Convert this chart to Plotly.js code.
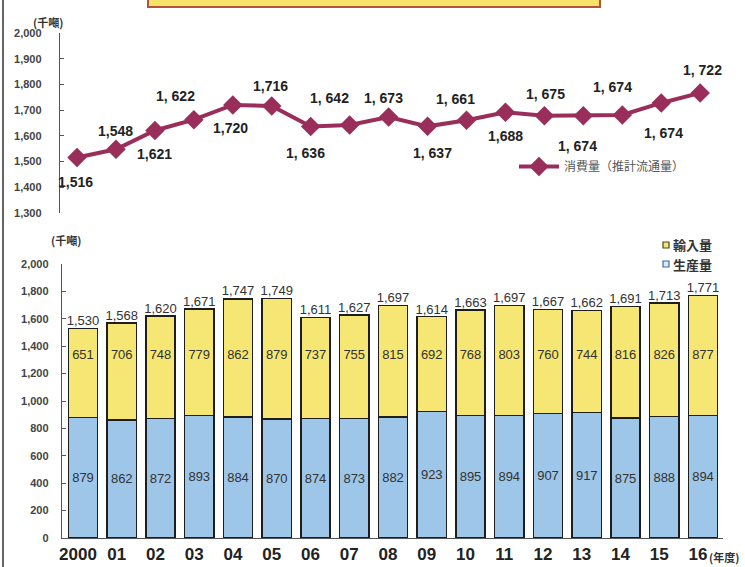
<!DOCTYPE html>
<html>
<head>
<meta charset="utf-8">
<script src="https://cdn.plot.ly/plotly-3.0.1.min.js"></script>
<style>
html,body{margin:0;padding:0;background:#fff;}
#chart{width:745px;height:567px;}
</style>
</head>
<body>
<div id="chart"></div>
<script>
// ---- data ----
const years = ['2000','01','02','03','04','05','06','07','08','09','10','11','12','13','14','15','16'];
const consumption = [1516,1548,1621,1663,1720,1716,1636,1642,1673,1637,1661,1692,1678,1678,1681,1728,1767];
const consumptionLabelText = ['1,516','1,548','1, 622','1,621','1,720','1,716','1, 642','1, 636','1, 673','1, 661','1, 637','1,688','1, 675','1, 674','1, 674','1, 674','1, 722'];
const production = [879,862,872,893,884,870,874,873,882,923,895,894,907,917,875,888,894];
const imports = [651,706,748,779,862,879,737,755,815,692,768,803,760,744,816,826,877];
const totals = [1530,1568,1620,1671,1747,1749,1611,1627,1697,1614,1663,1697,1667,1662,1691,1713,1771];
const seriesNames = ['輸入量','生産量'];
const fmt = v => v.toLocaleString('en-US');

// label placement (category index, value) for the top chart labels
const labelPosX = [-0.03,0.98,2.52,1.98,3.93,4.96,6.47,5.86,7.88,9.73,9.12,10.99,12.02,13.74,12.84,15.07,16.05];
const labelPosY = [1422,1620,1756,1531,1632,1795,1749,1535,1749,1745,1535,1601,1764,1791,1562,1612,1857];

const lineColor = '#9a2e5a';
const yellow = '#f6e774';
const blue = '#9ec6e8';
const sans = '"Liberation Sans", Arial, sans-serif';
const cjk = '"Noto Sans CJK JP", "Noto Sans CJK SC", sans-serif';

const traces = [
  {
    type:'scatter', mode:'lines+markers', x: years, y: consumption,
    xaxis:'x', yaxis:'y', name:'消費量（推計流通量）', legend:'legend',
    line:{color:lineColor, width:4},
    marker:{symbol:'diamond', size:15, color:lineColor},
    hoverinfo:'skip'
  },
  {
    type:'bar', x: years, y: production, xaxis:'x2', yaxis:'y2', name:seriesNames[1], showlegend:false,
    marker:{color:blue, line:{color:'#1e1e1e', width:1.5}},
    text: production.map(fmt), textposition:'inside', insidetextanchor:'middle',
    textfont:{family:sans, size:13, color:'#333'}, constraintext:'none', textangle:0,
    hoverinfo:'skip'
  },
  {
    type:'bar', x: years, y: imports, xaxis:'x2', yaxis:'y2', name:seriesNames[0], showlegend:false,
    marker:{color:yellow, line:{color:'#1e1e1e', width:1.5}},
    hoverinfo:'skip'
  },
  {
    type:'scatter', mode:'text', x: years, y: years.map(()=>1330), xaxis:'x2', yaxis:'y2',
    text: imports.map(fmt), textposition:'middle center', showlegend:false,
    textfont:{family:sans, size:13, color:'#333'}, hoverinfo:'skip'
  },
  {
    type:'scatter', mode:'text', x: years, y: totals, xaxis:'x2', yaxis:'y2',
    text: totals.map(fmt), textposition:'top center', showlegend:false,
    textfont:{family:sans, size:13, color:'#333'}, hoverinfo:'skip', cliponaxis:false
  }
];

const annotations = consumptionLabelText.map((t,i)=>({
  xref:'x', yref:'y', x: labelPosX[i], y: labelPosY[i], text: t, showarrow:false,
  xanchor:'center', yanchor:'middle',
  font:{family:sans, size:14, color:'#222', weight:'bold'}
}));
annotations.push(
  {xref:'paper', yref:'paper', x:48/745, y:1-22/567, xanchor:'center', yanchor:'middle', text:'(千噸)', showarrow:false,
   font:{family:cjk, size:11, color:'#333', weight:'bold'}},
  {xref:'paper', yref:'paper', x:66/745, y:1-240/567, xanchor:'center', yanchor:'middle', text:'(千噸)', showarrow:false,
   font:{family:cjk, size:11, color:'#333', weight:'bold'}},
  {xref:'paper', yref:'paper', x:707/745, y:1-557/567, xanchor:'left', yanchor:'middle', text:'(年度)', showarrow:false,
   font:{family:cjk, size:11, color:'#333', weight:'bold'}},
  {xref:'paper', yref:'paper', x:671/745, y:1-245/567, xanchor:'left', yanchor:'middle', text:seriesNames[0], showarrow:false,
   font:{family:cjk, size:13, color:'#333', weight:'bold'}},
  {xref:'paper', yref:'paper', x:671/745, y:1-264/567, xanchor:'left', yanchor:'middle', text:seriesNames[1], showarrow:false,
   font:{family:cjk, size:13, color:'#333', weight:'bold'}}
);

const layout = {
  width:745, height:567,
  margin:{l:0, r:0, t:0, b:0},
  paper_bgcolor:'#fff', plot_bgcolor:'rgba(0,0,0,0)',
  barmode:'stack', bargap:0.25,
  showlegend:true,
  xaxis:{domain:[60/745, 722/745], anchor:'y', type:'category', range:[-0.437, 16.56],
    showticklabels:false, showline:false, showgrid:false, zeroline:false, ticks:''},
  yaxis:{domain:[(567-213)/567, (567-33)/567], anchor:'x', range:[1300,2000], dtick:100,
    tickformat:',d', showline:true, linecolor:'#555', linewidth:1.2, ticks:'inside', ticklen:4,
    tickcolor:'#555', showgrid:false, zeroline:false, ticklabelstandoff:15,
    tickfont:{family:sans, size:11, color:'#444', weight:'bold'}},
  xaxis2:{domain:[62/745, 723/745], anchor:'y2', type:'category', range:[-0.542, 16.516],
    showline:true, linecolor:'#555', linewidth:1.2, showgrid:false, zeroline:false, ticks:'',
    minor:{ticks:'inside', tick0:0.5, dtick:1, ticklen:3, tickcolor:'#555'},
    tickfont:{family:sans, size:17, color:'#222', weight:'bold'}, ticklabelshift:-5, ticklabelstandoff:0},
  yaxis2:{domain:[(567-538)/567, (567-264)/567], anchor:'x2', range:[0,2000], dtick:200,
    tickformat:',d', showline:true, linecolor:'#555', linewidth:1.2, ticks:'inside', ticklen:4,
    tickcolor:'#555', showgrid:false, zeroline:false, ticklabelstandoff:10,
    tickfont:{family:sans, size:11, color:'#444', weight:'bold'}},
  legend:{x:514/745, y:1-152/567, xanchor:'left', yanchor:'top', bgcolor:'rgba(0,0,0,0)',
    itemwidth:40, font:{family:cjk, size:12, color:'#555'}},
  annotations: annotations,
  shapes:[
    {type:'rect', xref:'paper', yref:'paper', x0:148/745, x1:600/745, y0:1-7/567, y1:1.03,
     fillcolor:'#f7e36a', line:{color:'#b5523a', width:2}},
    {type:'line', xref:'paper', yref:'paper', x0:3/745, x1:3/745, y0:0, y1:1,
     line:{color:'#666', width:2}},
    {type:'rect', xref:'paper', yref:'paper', x0:663/745, x1:669/745, y0:1-248/567, y1:1-242/567,
     fillcolor:yellow, line:{color:'#4a4a20', width:1.2}},
    {type:'rect', xref:'paper', yref:'paper', x0:663/745, x1:669/745, y0:1-267/567, y1:1-261/567,
     fillcolor:'#dbe9f5', line:{color:'#3a6fa0', width:1.2}}
  ]
};

Plotly.newPlot('chart', traces, layout, {staticPlot:true});
</script>
</body>
</html>
